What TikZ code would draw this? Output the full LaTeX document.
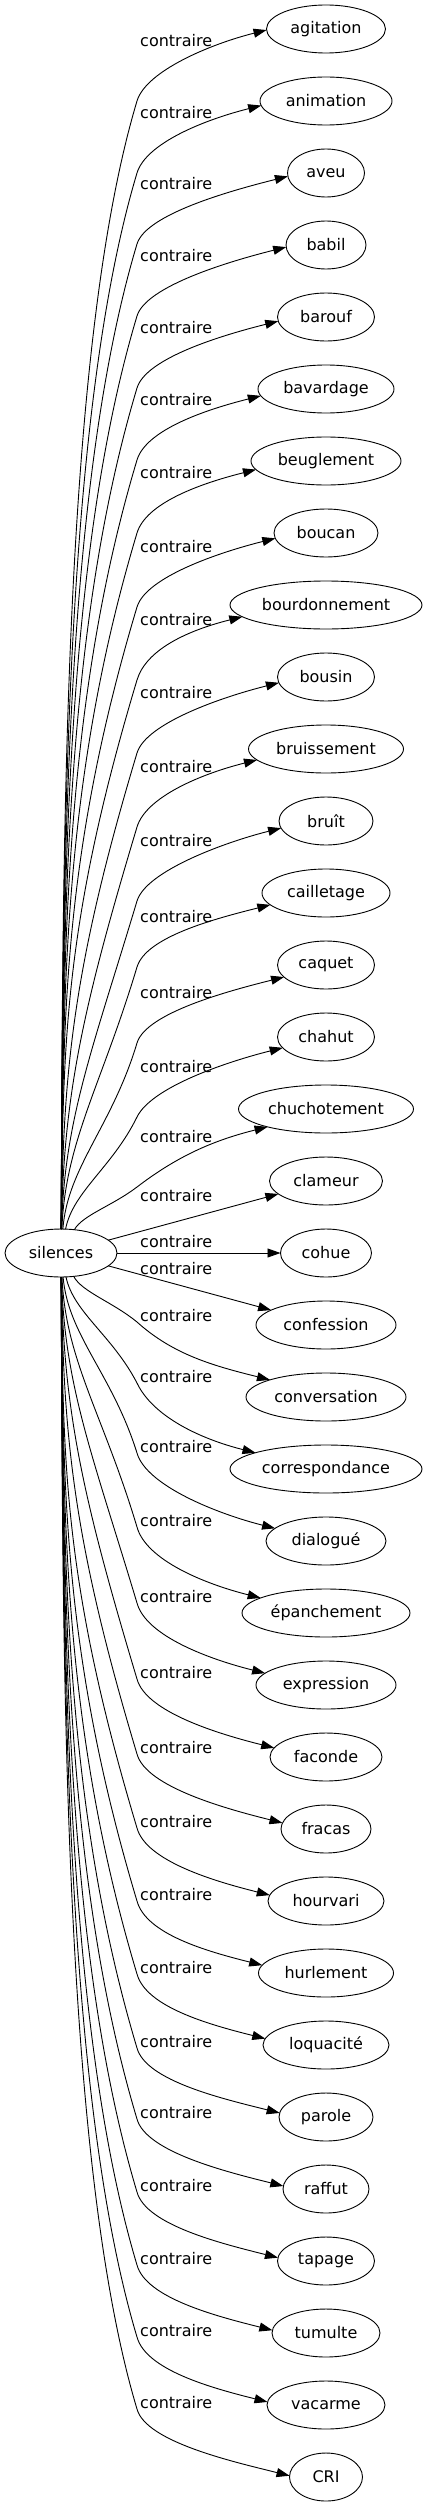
\documentclass[tikz,border=0pt]{standalone}
\usepackage{fontspec}
\setmainfont{DejaVu Sans}
\usetikzlibrary{arrows.meta,positioning,shapes.geometric,calc}

\begin{document}
\begin{tikzpicture}[
  x=1pt, y=-1pt,
  node distance=24pt,
  word/.style={ellipse, draw, line width=0.9pt, inner sep=0pt, outer sep=0pt, minimum height=48pt, font=\fontsize{16pt}{19pt}\selectfont},
  lab/.style={anchor=west, inner sep=0pt, font=\fontsize{16pt}{19pt}\selectfont},
  rel/.style={-{Triangle[length=13pt,width=9pt]}, line width=0.9pt}
]
\useasboundingbox (0,0) rectangle (427,2507);

% source word
\node[word, minimum width=112pt] (silences) at (61,1253) {silences};

% opposite words, one column
\node[word, minimum width=119pt] (agitation) at (326,29) {agitation};
\node[word, minimum width=132pt, below=of agitation] (animation) {animation};
\node[word, minimum width=77pt, below=of animation] (aveu) {aveu};
\node[word, minimum width=80pt, below=of aveu] (babil) {babil};
\node[word, minimum width=97pt, below=of babil] (barouf) {barouf};
\node[word, minimum width=136pt, below=of barouf] (bavardage) {bavardage};
\node[word, minimum width=150pt, below=of bavardage] (beuglement) {beuglement};
\node[word, minimum width=104pt, below=of beuglement] (boucan) {boucan};
\node[word, minimum width=192pt, below=of boucan] (bourdonnement) {bourdonnement};
\node[word, minimum width=97pt, below=of bourdonnement] (bousin) {bousin};
\node[word, minimum width=155pt, below=of bousin] (bruissement) {bruissement};
\node[word, minimum width=94pt, below=of bruissement] (bruit) {bruît};
\node[word, minimum width=128pt, below=of bruit] (cailletage) {cailletage};
\node[word, minimum width=97pt, below=of cailletage] (caquet) {caquet};
\node[word, minimum width=97pt, below=of caquet] (chahut) {chahut};
\node[word, minimum width=175pt, below=of chahut] (chuchotement) {chuchotement};
\node[word, minimum width=113pt, below=of chuchotement] (clameur) {clameur};
\node[word, minimum width=91pt, below=of clameur] (cohue) {cohue};
\node[word, minimum width=140pt, below=of cohue] (confession) {confession};
\node[word, minimum width=160pt, below=of confession] (conversation) {conversation};
\node[word, minimum width=192pt, below=of conversation] (correspondance) {correspondance};
\node[word, minimum width=120pt, below=of correspondance] (dialogue) {dialogué};
\node[word, minimum width=168pt, below=of dialogue] (epanchement) {épanchement};
\node[word, minimum width=140pt, below=of epanchement] (expression) {expression};
\node[word, minimum width=112pt, below=of expression] (faconde) {faconde};
\node[word, minimum width=90pt, below=of faconde] (fracas) {fracas};
\node[word, minimum width=116pt, below=of fracas] (hourvari) {hourvari};
\node[word, minimum width=135pt, below=of hourvari] (hurlement) {hurlement};
\node[word, minimum width=126pt, below=of hurlement] (loquacite) {loquacité};
\node[word, minimum width=94pt, below=of loquacite] (parole) {parole};
\node[word, minimum width=86pt, below=of parole] (raffut) {raffut};
\node[word, minimum width=97pt, below=of raffut] (tapage) {tapage};
\node[word, minimum width=108pt, below=of tapage] (tumulte) {tumulte};
\node[word, minimum width=118pt, below=of tumulte] (vacarme) {vacarme};
\node[word, minimum width=73pt, below=of vacarme] (cri) {CRI};

% edges leaving the top of silences: target / label y / end angle
\foreach \tgt/\ly/\ang [count=\i from 0] in {agitation/41/181, animation/113/184, aveu/184/185, babil/256/183, barouf/328/185, bavardage/400/186, beuglement/473/187, boucan/547/186, bourdonnement/620/188, bousin/693/187, bruissement/767/189, bruit/841/189, cailletage/917/192, caquet/993/196, chahut/1067/194, chuchotement/1137/197} {
  \pgfmathsetmacro\by{\ly+ifthenelse(\i<12,60,50)}
  \pgfmathsetmacro\len{1229-\by}
  \pgfmathsetmacro\sl{max(0.3,55/\len)}
  \pgfmathsetmacro\hh{min(250,0.45*\len)}
  \pgfmathsetmacro\xa{63+30*exp(-\len/100)}
  \pgfmathsetmacro\ya{1229-\len/3}
  \pgfmathsetmacro\xb{137-\sl*\hh}
  \pgfmathsetmacro\yb{\by+\hh}
  \pgfmathsetmacro\xc{137+30*\sl}
  \pgfmathsetmacro\yc{\by-30}
  \node[lab] (\tgt-lab) at (140,\ly) {contraire};
  \draw[rel] (silences) .. controls (\xa,\ya) and (\xb,\yb) .. (137,\by)
    .. controls (\xc,\yc) and ($(\tgt.\ang)+(-56,14)$) .. (\tgt.\ang);
}

% the three short straight edges
\node[lab] (clameur-lab) at (140,1196) {contraire};
\node[lab] (cohue-lab) at (140,1242) {contraire};
\node[lab] (confession-lab) at (140,1269) {contraire};
\draw[rel] (silences) -- (clameur);
\draw[rel] (silences) -- (cohue);
\draw[rel] (silences) -- (confession);

% edges leaving the bottom of silences: target / label y / end angle
\foreach \tgt/\ly/\ang in {conversation/1316/163, correspondance/1377/167, dialogue/1447/166, epanchement/1521/167, expression/1597/169, faconde/1673/170, fracas/1748/172, hourvari/1822/174, hurlement/1895/173, loquacite/1968/174, parole/2042/175, raffut/2113/176, tapage/2186/176, tumulte/2259/177, vacarme/2331/177, cri/2403/178} {
  \pgfmathsetmacro\by{\ly+6}
  \pgfmathsetmacro\len{\by-1277}
  \pgfmathsetmacro\sl{max(0.3,55/\len)}
  \pgfmathsetmacro\hh{min(250,0.45*\len)}
  \pgfmathsetmacro\xa{63+30*exp(-\len/100)}
  \pgfmathsetmacro\ya{1277+\len/3}
  \pgfmathsetmacro\xb{137-\sl*\hh}
  \pgfmathsetmacro\yb{\by-\hh}
  \pgfmathsetmacro\xc{137+30*\sl}
  \pgfmathsetmacro\yc{\by+33}
  \node[lab] (\tgt-lab) at (140,\ly) {contraire};
  \draw[rel] (silences) .. controls (\xa,\ya) and (\xb,\yb) .. (137,\by)
    .. controls (\xc,\yc) and ($(\tgt.\ang)+(-56,-14)$) .. (\tgt.\ang);
}
\end{tikzpicture}
\end{document}
